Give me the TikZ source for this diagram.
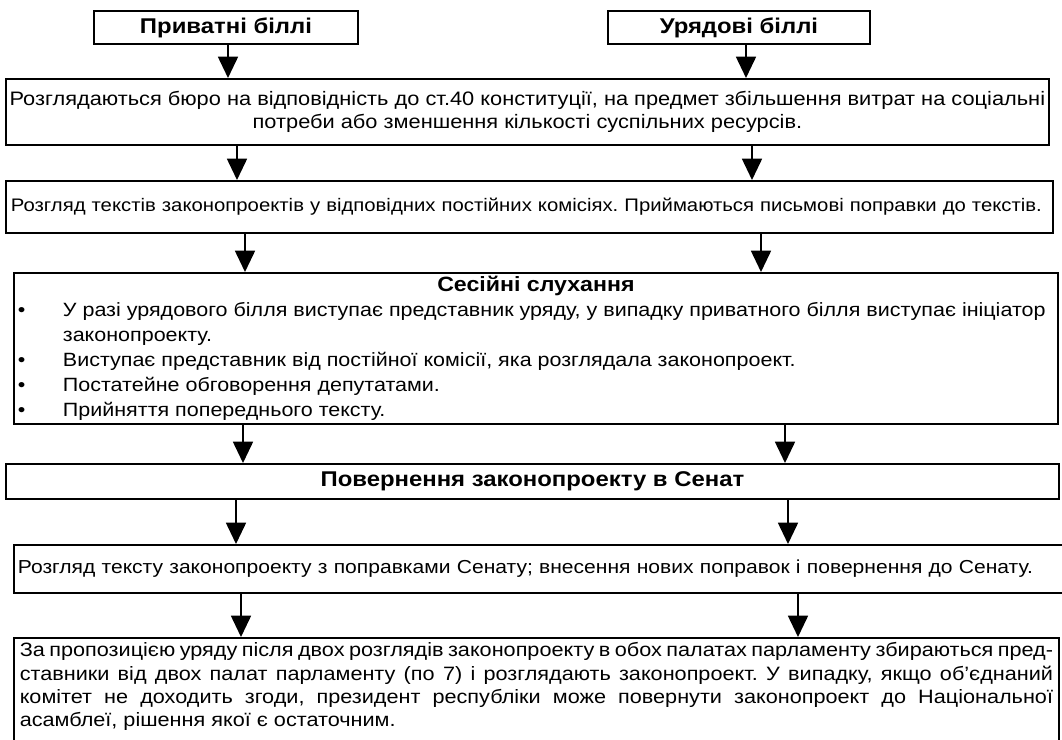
\documentclass[tikz,border=0pt]{standalone}
\usepackage{fontspec}
\setmainfont{Liberation Sans}[FakeStretch=1.12]
\usetikzlibrary{arrows.meta}
\newcommand\pxl[1]{#1*0.75pt}
\begin{document}
\frenchspacing
\begin{tikzpicture}[x=0.75pt,y=-0.75pt,
  box/.style={draw,line width=1.4pt,anchor=north west,inner sep=0pt,
     font=\fontsize{14.5pt}{17.5pt}\selectfont},
  head/.style={box,font=\fontsize{16pt}{18pt}\selectfont\bfseries},
  arr/.style={line width=1.3pt,-{Triangle[width=15pt,length=16pt]}}]
\useasboundingbox (0,0) rectangle (1062,739);
\fill[white] (0,0) rectangle (1062,739);

\node[head,minimum width=\pxl{264},minimum height=\pxl{33}] (pb) at (93,10) {Приватні біллі};
\node[head,minimum width=\pxl{262},minimum height=\pxl{33}] (ub) at (607,10) {Урядові біллі};

\node[box,font=\fontsize{14.6pt}{17.5pt}\selectfont,minimum width=\pxl{1043},minimum height=\pxl{66},align=center] (b2) at (5,78)
 {Розглядаються бюро на відповідність до ст.40 конституції, на предмет збільшення витрат на соціальні\\
  потреби або зменшення кількості суспільних ресурсів.};

\node[box,font=\fontsize{13.6pt}{17.5pt}\selectfont,minimum width=\pxl{1047},minimum height=\pxl{52},text width=777.75pt,align=left] (b3) at (5,180)
 {Розгляд текстів законопроектів у відповідних постійних комісіях. Приймаються письмові поправки до текстів.};

\node[box,minimum width=\pxl{1044},minimum height=\pxl{151}] (b4) at (13,272)
 {\parbox{777pt}{\fontsize{14.4pt}{18.75pt}\selectfont\raggedright
  {\centering\fontsize{15.5pt}{18.75pt}\selectfont\bfseries Сесійні слухання\par}
  \hangindent=33.75pt\hangafter=1\noindent\makebox[33.75pt][l]{•}У разі урядового білля виступає представник уряду, у випадку приватного білля виступає ініціатор\newline законопроекту.\par
  \noindent\makebox[33.75pt][l]{•}Виступає представник від постійної комісії, яка розглядала законопроект.\par
  \noindent\makebox[33.75pt][l]{•}Постатейне обговорення депутатами.\par
  \noindent\makebox[33.75pt][l]{•}Прийняття попереднього тексту.\par}};

\node[head,minimum width=\pxl{1053},minimum height=\pxl{35}] (b5) at (5,463)
 {Повернення законопроекту в Сенат};

\node[box,font=\fontsize{14.1pt}{17.5pt}\selectfont,minimum width=\pxl{1060},minimum height=\pxl{48},text width=789pt,align=left] (b6) at (13,544)
 {Розгляд тексту законопроекту з поправками Сенату; внесення нових поправок і повернення до Сенату.};

\node[box,minimum width=\pxl{1045},minimum height=\pxl{112}] (b7) at (13,637)
 {\parbox{775pt}{\fontsize{14.5pt}{17.5pt}\selectfont
  За пропозицією уряду після двох розглядів законопроекту в обох палатах парламенту збираються пред-\linebreak
  ставники від двох палат парламенту (по 7) і розглядають законопроект. У випадку, якщо об'єднаний\linebreak
  комітет не доходить згоди, президент республіки може повернути законопроект до Національної\linebreak
  асамблеї, рішення якої є остаточним.\par\vspace*{11pt}}};

\coordinate (L1) at (228,0); \coordinate (R1) at (746,0);
\coordinate (L2) at (237,0); \coordinate (R2) at (752,0);
\coordinate (L3) at (245,0); \coordinate (R3) at (761,0);
\coordinate (L4) at (243,0); \coordinate (R4) at (785,0);
\coordinate (L5) at (236,0); \coordinate (R5) at (788,0);
\coordinate (L6) at (241,0); \coordinate (R6) at (798,0);

\draw[arr] (pb.south -| L1) -- (b2.north -| L1);
\draw[arr] (ub.south -| R1) -- (b2.north -| R1);
\draw[arr] (b2.south -| L2) -- (b3.north -| L2);
\draw[arr] (b2.south -| R2) -- (b3.north -| R2);
\draw[arr] (b3.south -| L3) -- (b4.north -| L3);
\draw[arr] (b3.south -| R3) -- (b4.north -| R3);
\draw[arr] (b4.south -| L4) -- (b5.north -| L4);
\draw[arr] (b4.south -| R4) -- (b5.north -| R4);
\draw[arr] (b5.south -| L5) -- (b6.north -| L5);
\draw[arr] (b5.south -| R5) -- (b6.north -| R5);
\draw[arr] (b6.south -| L6) -- (b7.north -| L6);
\draw[arr] (b6.south -| R6) -- (b7.north -| R6);
\end{tikzpicture}
\end{document}
